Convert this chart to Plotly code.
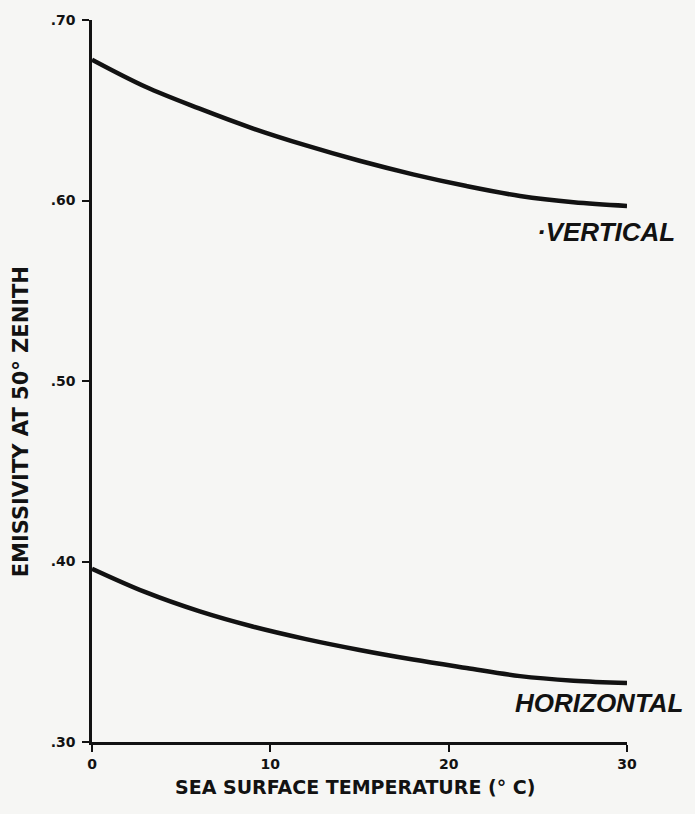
import plotly.graph_objects as go

# Sea surface temperature (deg C) and emissivity at 50 deg zenith
temperature = [0, 3, 6, 9, 12, 15, 18, 21, 24, 27, 30]
vertical = [0.678, 0.663, 0.651, 0.640, 0.6305, 0.622, 0.6145, 0.608, 0.6025, 0.599, 0.597]
horizontal = [0.396, 0.383, 0.3725, 0.364, 0.357, 0.351, 0.3457, 0.341, 0.3365, 0.334, 0.3327]

x_ticks = [0, 10, 20, 30]
x_tick_text = ["0", "10", "20", "30"]
y_ticks = [0.30, 0.40, 0.50, 0.60, 0.70]
y_tick_text = [".30", ".40", ".50", ".60", ".70"]

INK = "#121212"
PAPER = "#f6f6f4"
BOLD_FONT = "DejaVu Sans"
LABEL_FONT = "Liberation Sans"

fig = go.Figure()
for series in (vertical, horizontal):
    fig.add_trace(go.Scatter(
        x=temperature, y=series, mode="lines",
        line=dict(color=INK, width=4.5, shape="spline", smoothing=1.0),
        showlegend=False, hoverinfo="skip", cliponaxis=False,
    ))

axis_common = dict(
    showline=True, linecolor=INK, linewidth=2.5,
    ticks="outside", tickcolor=INK, tickwidth=2, ticklen=7,
    showgrid=False, zeroline=False,
    tickfont=dict(family=BOLD_FONT, size=14, color=INK, weight="bold"),
)

fig.update_xaxes(range=[0, 30], tickvals=x_ticks, ticktext=x_tick_text, **axis_common)
fig.update_yaxes(range=[0.30, 0.70], tickvals=y_ticks, ticktext=y_tick_text,
                 ticklabelstandoff=4, **axis_common)

fig.update_layout(
    width=695, height=814,
    margin=dict(l=92, r=68, t=17, b=72),
    paper_bgcolor=PAPER, plot_bgcolor=PAPER,
    annotations=[
        dict(text="SEA SURFACE TEMPERATURE (° C)", xref="paper", yref="paper",
             x=0.4916, y=-0.062, xanchor="center", yanchor="middle", showarrow=False,
             font=dict(family=BOLD_FONT, size=19, color=INK, weight="bold")),
        dict(text="EMISSIVITY AT 50° ZENITH", xref="paper", yref="paper",
             x=-0.1327, y=0.4428, xanchor="center", yanchor="middle", showarrow=False,
             textangle=-90,
             font=dict(family=BOLD_FONT, size=21, color=INK, weight="bold")),
        dict(text="·VERTICAL", x=24.85, y=0.5825, xanchor="left", yanchor="middle",
             showarrow=False,
             font=dict(family=LABEL_FONT, size=26, color=INK, style="italic", weight="bold")),
        dict(text="HORIZONTAL", x=23.6, y=0.3215, xanchor="left", yanchor="middle",
             showarrow=False,
             font=dict(family=LABEL_FONT, size=26, color=INK, style="italic", weight="bold")),
    ],
)

fig.write_html("out.html")
